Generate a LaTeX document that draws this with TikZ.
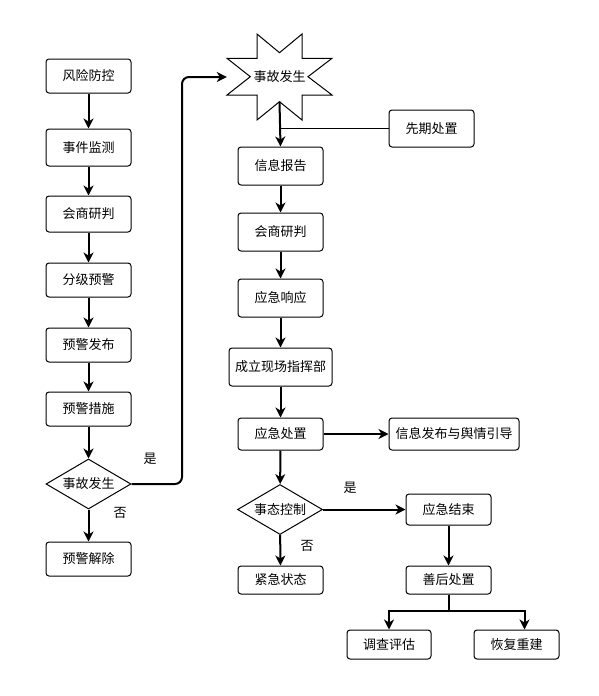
\documentclass[tikz,border=0pt]{standalone}
\usepackage{fontspec}
\newfontfamily\cjk{Noto Sans CJK SC}
\usetikzlibrary{arrows.meta,calc,shapes.geometric}
\tikzset{
  cn/.style={font=\cjk\fontsize{13}{15}\selectfont},
  box/.style={cn, draw, rounded corners=3pt, line width=1pt, minimum width=85pt, minimum height=34pt, inner sep=1pt},
  dia/.style={cn, draw, diamond, line width=1pt, minimum width=85pt, minimum height=50pt, inner sep=0pt, aspect=1.7},
  arr/.style={line width=2pt, -{Stealth[length=10pt,width=10pt,inset=3pt]}},
  plain/.style={line width=1.3pt},
}
\begin{document}
\begin{tikzpicture}[x=1pt,y=-1pt]
\useasboundingbox[fill=white] (0,0) rectangle (598,696);

% left column
\node[box, minimum height=34pt] (l1) at (88.5,76) {风险防控};
\node[box, minimum height=37pt] (l2) at (88.5,147.5) {事件监测};
\node[box, minimum height=36pt] (l3) at (88.5,214) {会商研判};
\node[box] (l4) at (88.5,280) {分级预警};
\node[box] (l5) at (88.5,345) {预警发布};
\node[box] (l6) at (88.5,409) {预警措施};
\node[dia] (d1) at (88.5,484) {事故发生};
\node[box] (l7) at (88.5,559) {预警解除};

% star
\draw[line width=1pt] (257,34) -- (279.5,52.7) -- (302,34) -- (302,58.3) -- (332,58.3) -- (308,76.7)
  -- (332,95) -- (302,95) -- (302,120) -- (279.5,101.7) -- (257,120) -- (257,95) -- (227,95)
  -- (250.3,76.7) -- (227,58.3) -- (257,58.3) -- cycle;
\node[cn, minimum width=105pt, minimum height=86pt, inner sep=0pt] (acc) at (279.5,77) {事故发生};
\coordinate (accb) at (279.5,101.7);

% right column
\node[box, minimum height=37pt] (pre) at (431.5,128.5) {先期处置};
\node[box, minimum height=38pt] (r1) at (280.5,166) {信息报告};
\node[box, minimum height=38pt] (r2) at (280.5,232) {会商研判};
\node[box, minimum height=38pt] (r3) at (280.5,298) {应急响应};
\node[box, minimum width=103pt, minimum height=38pt] (r4) at (280.5,367) {成立现场指挥部};
\node[box, minimum height=32pt] (r5) at (280.5,434) {应急处置};
\node[box, minimum width=130pt, minimum height=32pt] (info) at (454,434) {信息发布与舆情引导};
\node[dia] (d2) at (280,509.5) {事态控制};
\node[box, minimum height=28pt] (r6) at (280.5,580) {紧急状态};
\node[box, minimum height=31pt] (endn) at (448.5,509.5) {应急结束};
\node[box, minimum height=28pt] (after) at (448.5,580) {善后处置};
\node[box, minimum width=84pt, minimum height=29pt] (inv) at (389,644.5) {调查评估};
\node[box, minimum height=29pt] (reb) at (516.5,644.5) {恢复重建};

% labels
\node[cn] (y1) at (150,459) {是};
\node[cn] (n1) at (120,513) {否};
\node[cn] (y2) at (350,488) {是};
\node[cn] (n2) at (307,546) {否};

% connectors left
\draw[arr] (l1) -- (l2);
\draw[arr] (l2) -- (l3);
\draw[arr] (l3) -- (l4);
\draw[arr] (l4) -- (l5);
\draw[arr] (l5) -- (l6);
\draw[arr] (l6) -- (d1);
\draw[arr] (d1) -- (l7);
\draw[arr, rounded corners=7pt] (d1.east) -- (182,484) |- (acc.west);

% connectors right
\draw[arr] (accb) -- (r1.north);
\draw[plain] (pre.west) -- (pre.west -| accb);
\draw[arr] (r1) -- (r2);
\draw[arr] (r2) -- (r3);
\draw[arr] (r3) -- (r4);
\draw[arr] (r4) -- (r5);
\draw[arr] (r5) -- (info);
\draw[arr] (r5) -- (d2);
\draw[arr] (d2) -- (r6);
\draw[arr] (d2) -- (endn);
\draw[arr] (endn) -- (after);
\draw[arr] (after.south) -- ++(0,16) -| (inv.north);
\draw[arr] (after.south) -- ++(0,16) -| ([xshift=8pt]reb.north);
\end{tikzpicture}
\end{document}
